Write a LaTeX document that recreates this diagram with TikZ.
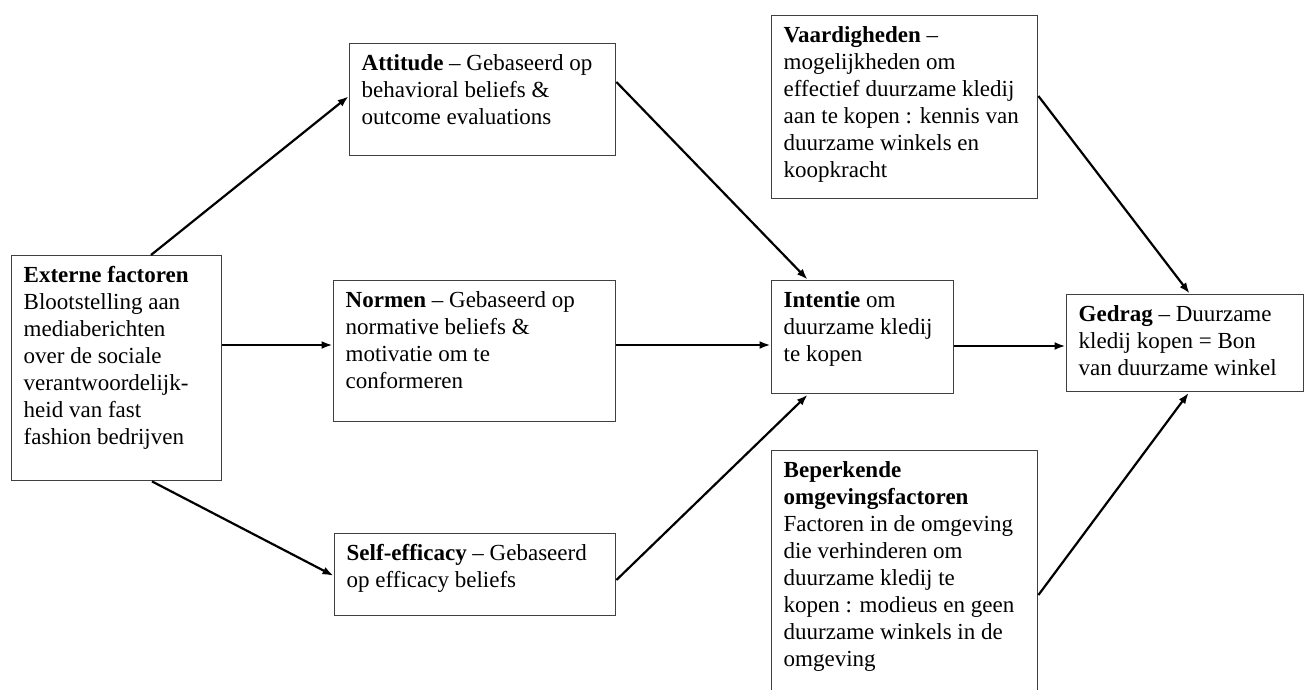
\documentclass[tikz,border=0pt]{standalone}
\usepackage{fontspec}
\setmainfont{Liberation Serif}
\usepackage{tikz}
\usetikzlibrary{arrows.meta,calc}

% box text: height, inner width, lines
\newcommand{\boxtext}[3]{\parbox[c][#1pt][t]{#2pt}{\fontsize{23}{27}\selectfont\rule{0pt}{27pt}#3}}

\begin{document}
\begin{tikzpicture}[x=1pt, y=-1pt,
  box/.style={draw=black!75, line width=1.4pt, anchor=north west, inner xsep=12pt, inner ysep=0pt},
  link/.style={-{Latex[length=11pt,width=8pt]}, line width=2.2pt, shorten >=0.5pt}]

\useasboundingbox (0,0) rectangle (1307,689);

\node[box] (ext) at (11,255) {\boxtext{225}{186}{\textbf{Externe factoren}\\ Blootstelling aan\\ mediaberichten\\ over de sociale\\ verantwoordelijk-\\ heid van fast\\ fashion bedrijven}};
\node[box] (att) at (349,43) {\boxtext{112}{242}{\textbf{Attitude} – Gebaseerd op\\ behavioral beliefs \&\\ outcome evaluations}};
\node[box] (norm) at (333,280) {\boxtext{141}{258}{\textbf{Normen} – Gebaseerd op\\ normative beliefs \&\\ motivatie om te\\ conformeren}};
\node[box] (self) at (334,533) {\boxtext{82}{257}{\textbf{Self-efficacy} – Gebaseerd\\ op efficacy beliefs}};
\node[box] (int) at (771,280) {\boxtext{113}{158}{\textbf{Intentie} om\\ duurzame kledij\\ te kopen}};
\node[box] (vaar) at (771,15) {\boxtext{183}{242}{\textbf{Vaardigheden} –\\ mogelijkheden om\\ effectief duurzame kledij\\ aan te kopen : kennis van\\ duurzame winkels en\\ koopkracht}};
\node[box] (bep) at (771,450) {\boxtext{260}{242}{\textbf{Beperkende}\\ \textbf{omgevingsfactoren}\\ Factoren in de omgeving\\ die verhinderen om\\ duurzame kledij te\\ kopen : modieus en geen\\ duurzame winkels in de\\ omgeving}};
\node[box] (gedr) at (1066,294) {\boxtext{97}{213}{\rule{0pt}{3pt}\textbf{Gedrag} – Duurzame\\ kledij kopen = Bon\\ van duurzame winkel}};

\draw[link] ($(ext.north west)+(140,0)$) -- ($(att.north west)+(0,53)$);
\draw[link] ($(ext.north east)+(0,90)$) -- ($(norm.north west)+(0,65)$);
\draw[link] ($(ext.south west)+(141,0)$) -- ($(self.north west)+(0,43)$);

\draw[link] ($(att.north east)+(0,39)$) -- ($(int.north west)+(37,0)$);
\draw[link] ($(norm.north east)+(0,65)$) -- ($(int.north west)+(0,65)$);
\draw[link] ($(self.north east)+(0,47)$) -- ($(int.south west)+(37,0)$);

\draw[link] ($(int.north east)+(0,66)$) -- ($(gedr.north west)+(0,52)$);
\draw[link] ($(vaar.north east)+(0,81)$) -- ($(gedr.north west)+(124,0)$);
\draw[link] ($(bep.north east)+(0,145)$) -- ($(gedr.south west)+(123,0)$);

\end{tikzpicture}
\end{document}
